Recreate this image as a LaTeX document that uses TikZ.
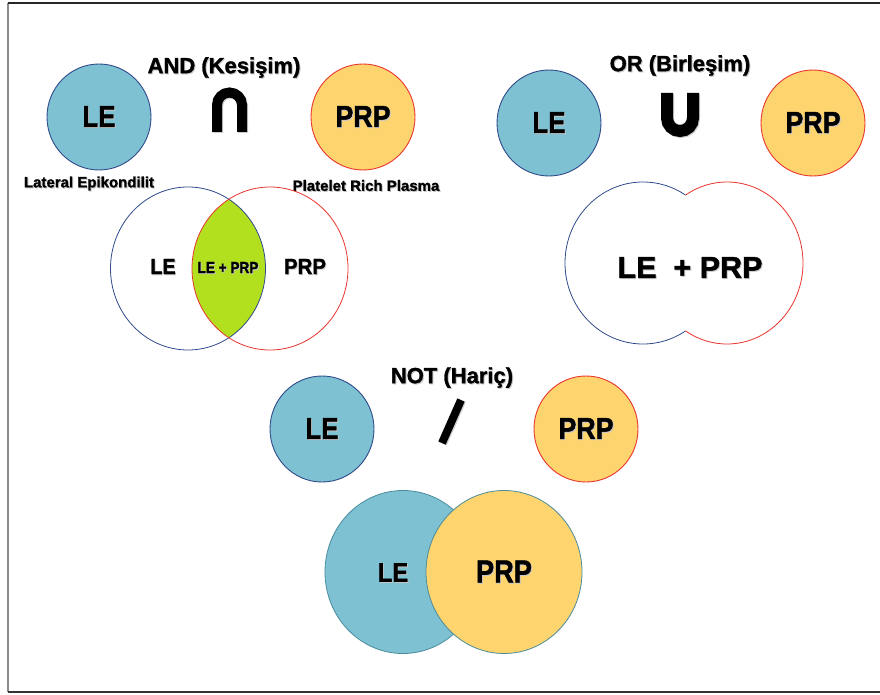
\documentclass[tikz,border=0pt]{standalone}
\usepackage{fontspec}
\usepackage{graphicx}
\setmainfont{Liberation Sans}[BoldFeatures={FakeBold=1.3}]
\usetikzlibrary{shapes.geometric}
\definecolor{leblue}{HTML}{7DC1D2}
\definecolor{prpyel}{HTML}{FDD46E}
\definecolor{limeg}{HTML}{B3E01E}
\definecolor{navyb}{HTML}{2F4A8A}
\definecolor{redb}{HTML}{E8352D}
\definecolor{tealb}{HTML}{4A8C9C}
\newcommand\shd[2][1]{\scalebox{#1}[1]{\rlap{\kern1pt\raisebox{-1pt}{\textcolor{black!22}{#2}}}#2}}
\newcommand\fsz[1]{\fontsize{#1}{#1}\selectfont}
\begin{document}
\begin{tikzpicture}[x=1pt,y=-1pt,
  lecirc/.style={ellipse, draw=navyb, fill=leblue, line width=0.9pt, minimum width=104pt, minimum height=106pt, inner sep=0pt, font=\bfseries\fsz{30.5}},
  prpcirc/.style={ellipse, draw=redb, fill=prpyel, line width=0.9pt, minimum width=104pt, minimum height=106pt, inner sep=0pt, font=\bfseries\fsz{30.5}},
  titletxt/.style={inner sep=0pt, font=\bfseries\fsz{22}},
  smalltxt/.style={inner sep=0pt, font=\bfseries\fsz{15}},
  lbl/.style={inner sep=0pt, font=\bfseries\fsz{#1}},
  symb/.style={line width=10pt, line cap=butt, line join=miter}
]
\useasboundingbox (0,0) rectangle (880,695);
% frame
\draw[black!45, line width=2pt] (7.5,3) -- (7.5,692);
\draw[black!85, line width=1.5pt] (7.5,3) -- (880,3);
\draw[black!80, line width=2pt] (7.5,692) -- (880,692);

% ---------- AND ----------
\node[titletxt] (t1) at (224,68) {\shd{AND (Kesişim)}};
\node[lecirc] (le1) at (99,117) {\shd[0.85]{LE}};
\node[prpcirc] (prp1) at (363,117) {\shd[0.88]{PRP}};
\draw[symb, black!20] (218,133) -- (218,106) arc[start angle=180,end angle=360,radius=12.5] -- (243,133);
\draw[symb] (217,132) -- (217,105) arc[start angle=180,end angle=360,radius=12.5] -- (242,132);
\node[smalltxt] (lab1) at (89,184) {\shd{Lateral Epikondilit}};
\node[smalltxt] (lab2) at (366,186) {\shd{Platelet Rich Plasma}};
\coordinate (vl) at (188,268.5);
\coordinate (vr) at (270,268.5);
\begin{scope}
  \clip (vl) ellipse (77.5 and 81.5);
  \fill[limeg] (vr) ellipse (78 and 81.5);
\end{scope}
\draw[navyb, line width=0.8pt] (vl) ellipse (77.5 and 81.5);
\draw[redb, line width=0.8pt] (vr) ellipse (78 and 81.5);
\node[lbl=22] (v1) at (163,267) {\shd[0.9]{LE}};
\node[lbl=16] (v2) at (228,268) {\shd[0.85]{LE + PRP}};
\node[lbl=22] (v3) at (305,267) {\shd[0.93]{PRP}};

% ---------- OR ----------
\node[titletxt] (t2) at (680,66) {\shd{OR (Birleşim)}};
\node[lecirc] (le2) at (549,123) {\shd[0.85]{LE}};
\node[prpcirc] (prp2) at (813,123) {\shd[0.88]{PRP}};
\draw[symb, line width=12pt, black!20] (668,94) -- (668,119) arc[start angle=180,end angle=0,radius=13] -- (694,94);
\draw[symb, line width=12pt] (667,93) -- (667,118) arc[start angle=180,end angle=0,radius=13] -- (693,93);
\coordinate (ul) at (643,263);
\coordinate (ur) at (727,263);
\fill[white] (ul) ellipse (78 and 81);
\fill[white] (ur) ellipse (76 and 81);
\begin{scope}[even odd rule]
  \clip (0,0) rectangle (880,695) (ur) ellipse (76 and 81);
  \draw[navyb, line width=0.8pt] (ul) ellipse (78 and 81);
\end{scope}
\begin{scope}[even odd rule]
  \clip (0,0) rectangle (880,695) (ul) ellipse (78 and 81);
  \draw[redb, line width=0.8pt] (ur) ellipse (76 and 81);
\end{scope}
\node[lbl=30.5] (u1) at (690,268) {\shd{LE\ \ + PRP}};

% ---------- NOT ----------
\node[titletxt] (t3) at (452,378) {\shd{NOT (Hariç)}};
\node[lecirc] (le3) at (322,429) {\shd[0.85]{LE}};
\node[prpcirc] (prp3) at (586,429) {\shd[0.88]{PRP}};
\draw[symb, line width=8pt, black!20] (462,401) -- (443,444);
\draw[symb, line width=8pt] (461,400) -- (442,443);
\node[ellipse, draw=tealb, fill=leblue, line width=0.8pt, minimum width=156pt, minimum height=163pt] (nl) at (403,572) {};
\node[ellipse, draw=tealb, fill=prpyel, line width=0.8pt, minimum width=156pt, minimum height=163pt] (nr) at (504,572) {};
\node[lbl=27] (n1) at (393,573) {\shd[0.88]{LE}};
\node[lbl=32] (n2) at (504,572) {\shd[0.85]{PRP}};
\end{tikzpicture}
\end{document}
